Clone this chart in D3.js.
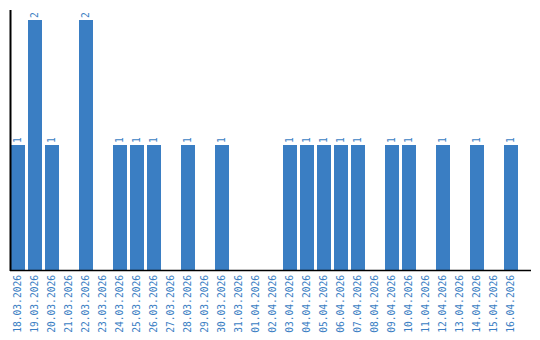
<!DOCTYPE html>
<html>
<head>
<meta charset="utf-8">
<script src="https://cdn.jsdelivr.net/npm/d3@7"></script>
<style>
  html, body { margin: 0; padding: 0; background: #fff; }
  svg { display: block; }
  text { font-family: "DejaVu Sans Mono", monospace; }
</style>
</head>
<body>
<svg id="chart" width="540" height="340"></svg>
<script>
const dates = ["18.03.2026","19.03.2026","20.03.2026","21.03.2026","22.03.2026","23.03.2026","24.03.2026","25.03.2026","26.03.2026","27.03.2026","28.03.2026","29.03.2026","30.03.2026","31.03.2026","01.04.2026","02.04.2026","03.04.2026","04.04.2026","05.04.2026","06.04.2026","07.04.2026","08.04.2026","09.04.2026","10.04.2026","11.04.2026","12.04.2026","13.04.2026","14.04.2026","15.04.2026","16.04.2026"];
const counts = [1,2,1,0,2,0,1,1,1,0,1,0,1,0,0,0,1,1,1,1,1,0,1,1,0,1,0,1,0,1];

const svg = d3.select("#chart");
const barColor = "#3a7ec3";
const x0 = 11, step = 17, baseY = 270, topY = 20;

const x = d3.scaleBand()
  .domain(dates)
  .range([x0, x0 + dates.length * step - 3])
  .paddingInner(3 / 17)
  .paddingOuter(0);

const y = d3.scaleLinear().domain([0, 2]).range([baseY, topY]);

const data = dates.map((d, i) => ({ date: d, value: counts[i] }));

svg.selectAll("rect.bar")
  .data(data.filter(d => d.value > 0))
  .enter().append("rect")
  .attr("class", "bar")
  .attr("x", d => x(d.date))
  .attr("y", d => y(d.value))
  .attr("width", x.bandwidth())
  .attr("height", d => y(0) - y(d.value))
  .attr("fill", barColor);

// value labels
svg.selectAll("text.val")
  .data(data.filter(d => d.value > 0))
  .enter().append("text")
  .attr("class", "val")
  .attr("transform", d => `translate(${x(d.date) + x.bandwidth() / 2},${y(d.value) - 2}) rotate(-90)`)
  .attr("dy", "0.35em")
  .attr("text-anchor", "start")
  .attr("font-size", 9.6)
  .attr("fill", barColor)
  .text(d => d.value);

// axes lines
svg.append("line")
  .attr("x1", 10.5).attr("x2", 10.5)
  .attr("y1", 10).attr("y2", baseY + 1)
  .attr("stroke", "#000").attr("stroke-width", 2);
svg.append("line")
  .attr("x1", 10).attr("x2", 531)
  .attr("y1", baseY + 0.5).attr("y2", baseY + 0.5)
  .attr("stroke", "#000").attr("stroke-width", 1.5);

// x tick labels
svg.selectAll("text.tick")
  .data(dates)
  .enter().append("text")
  .attr("class", "tick")
  .attr("transform", d => `translate(${x(d) + x.bandwidth() / 2},${baseY + 5}) rotate(-90)`)
  .attr("dy", "0.35em")
  .attr("text-anchor", "end")
  .attr("font-size", 9.6)
  .attr("fill", barColor)
  .text(d => d);
</script>
</body>
</html>
